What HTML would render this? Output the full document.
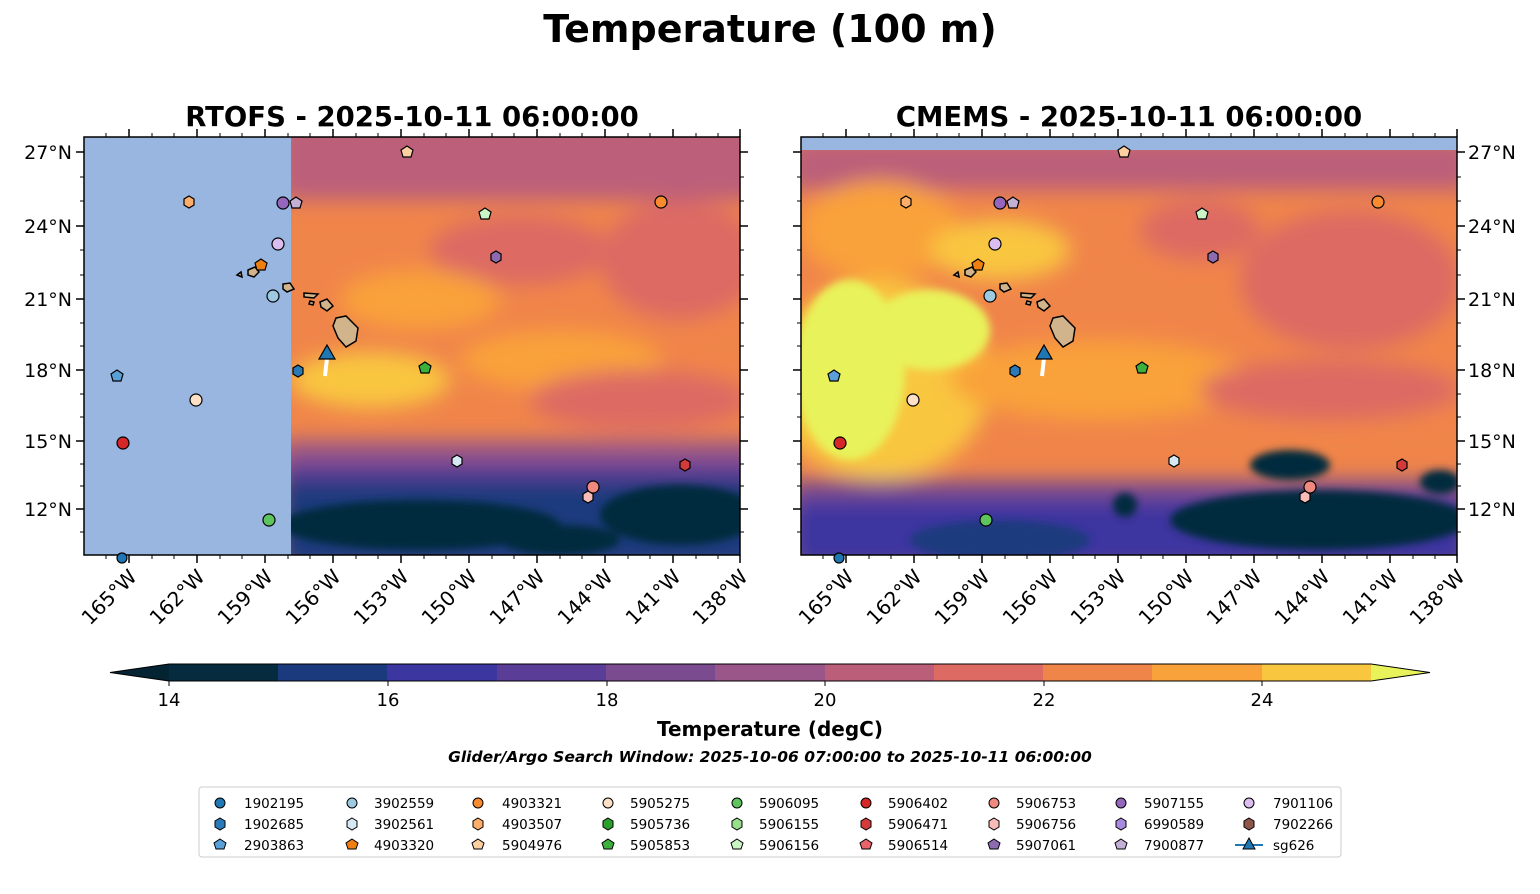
<!DOCTYPE html>
<html><head><meta charset="utf-8"><style>
body{margin:0;background:#fff;}
svg text{font-family:"DejaVu Sans","Liberation Sans",sans-serif;}
</style></head><body>
<svg width="1540" height="889" viewBox="0 0 1540 889" xmlns="http://www.w3.org/2000/svg">
<defs>
<filter id="bl" x="-20%" y="-20%" width="140%" height="140%"><feGaussianBlur stdDeviation="10"/></filter>
<filter id="bs" x="-20%" y="-20%" width="140%" height="140%"><feGaussianBlur stdDeviation="4"/></filter>
<clipPath id="cl"><rect x="291" y="137" width="449" height="418"/></clipPath>
<clipPath id="cr"><rect x="801" y="150" width="656" height="405"/></clipPath>
<g id="isl">
<path d="M336,318 L346,316 L358,328 L356,341 L346,347 L338,338 L333,326Z"/>
<path d="M320,302 L327,299 L333,306 L327,311 L321,307Z"/>
<path d="M304,293 L318,294 L314,298 L304,297Z"/>
<path d="M310,301 L314,302 L313,305 L309,304Z"/>
<path d="M283,284 L290,283 L294,289 L287,292 L283,289Z"/>
<path d="M248,270 L255,267 L259,272 L254,277 L248,275Z"/>
<path d="M237,275 L241,272 L242,277Z"/>
</g>
<g id="mkr" stroke="#000" stroke-width="1.2">
<polygon points="117,370 123,374 121,381 113,381 111,374" fill="#5aa0d8"/>
<circle cx="123" cy="443" r="6" fill="#d62728"/>
<polygon points="189,196 194,199 194,205 189,208 184,205 184,199" fill="#fdae6b"/>
<circle cx="196" cy="400" r="6" fill="#fde0c5"/>
<polygon points="261,259 267,263 265,270 257,270 255,263" fill="#f07f12"/>
<circle cx="278" cy="244" r="6" fill="#dcbdf0"/>
<circle cx="273" cy="296" r="6" fill="#9ecae1"/>
<circle cx="283" cy="203" r="6" fill="#9467bd"/>
<polygon points="296,197 302,201 300,208 292,208 290,201" fill="#c5b0d5"/>
<polygon points="298,365 303,368 303,374 298,377 293,374 293,368" fill="#2a7ab8"/>
<circle cx="269" cy="520" r="6" fill="#5ec45e"/>
<polygon points="407,146 413,150 411,157 403,157 401,150" fill="#fdd0a2"/>
<polygon points="485,208 491,212 489,219 481,219 479,212" fill="#ccf5c5"/>
<polygon points="496,251 501,254 501,260 496,263 491,260 491,254" fill="#8c6bb1"/>
<polygon points="425,362 431,366 429,373 421,373 419,366" fill="#3cb03c"/>
<polygon points="457,455 462,458 462,464 457,467 452,464 452,458" fill="#d6e8f4"/>
<circle cx="661" cy="202" r="6" fill="#f88a30"/>
<polygon points="685,459 690,462 690,468 685,471 680,468 680,462" fill="#d33b3b"/>
<circle cx="593" cy="487" r="6" fill="#f08a80"/>
<polygon points="588,491 593,494 593,500 588,503 583,500 583,494" fill="#f7bcb8"/>
<circle cx="122" cy="558" r="5" fill="#1f77b4"/>
<line x1="327" y1="358" x2="325" y2="376" stroke="#fff" stroke-width="4"/>
<polygon points="327,345 335,359 319,359" fill="#1f77b4"/>
</g>
</defs>
<text x="770" y="42" font-size="38" font-weight="bold" text-anchor="middle">Temperature (100 m)</text>
<text x="412" y="126" font-size="27.5" font-weight="bold" text-anchor="middle">RTOFS - 2025-10-11 06:00:00</text>
<text x="1129" y="126" font-size="27.5" font-weight="bold" text-anchor="middle">CMEMS - 2025-10-11 06:00:00</text>

<!-- LEFT MAP -->
<rect x="84" y="137" width="656" height="418" fill="#99b6e0"/>
<g clip-path="url(#cl)">
<rect x="291" y="137" width="449" height="418" fill="#f0854a"/>
<g filter="url(#bl)">
<rect x="280" y="120" width="480" height="80" fill="#bb5e7a"/>
<ellipse cx="520" cy="250" rx="90" ry="35" fill="#dd6b63"/>
<ellipse cx="680" cy="260" rx="80" ry="60" fill="#dd6b63"/>
<ellipse cx="420" cy="300" rx="80" ry="30" fill="#f9a13a"/>
<ellipse cx="370" cy="380" rx="80" ry="28" fill="#f9c63f"/>
<ellipse cx="560" cy="360" rx="100" ry="30" fill="#f9a13a"/>
<ellipse cx="640" cy="400" rx="110" ry="30" fill="#dd6b63"/>
<rect x="280" y="440" width="480" height="30" fill="#9a5688"/>
<rect x="280" y="462" width="480" height="25" fill="#5a3d96"/>
<rect x="280" y="480" width="480" height="90" fill="#1b3a7e"/>
</g>
<g filter="url(#bs)">
<ellipse cx="420" cy="525" rx="140" ry="25" fill="#062a3e"/>
<ellipse cx="680" cy="515" rx="80" ry="30" fill="#062a3e"/>
<ellipse cx="560" cy="540" rx="60" ry="15" fill="#062a3e"/>
</g>
</g>
<rect x="84" y="137" width="656" height="418" fill="none" stroke="#000" stroke-width="1.5"/>

<!-- RIGHT MAP -->
<rect x="801" y="137" width="656" height="418" fill="#99b6e0"/>
<g clip-path="url(#cr)">
<rect x="801" y="150" width="656" height="405" fill="#f0854a"/>
<g filter="url(#bl)">
<rect x="790" y="140" width="680" height="50" fill="#bb5e7a"/>
<ellipse cx="880" cy="230" rx="80" ry="50" fill="#f9a13a"/>
<ellipse cx="1000" cy="250" rx="70" ry="30" fill="#f9c63f"/>
<ellipse cx="1350" cy="280" rx="110" ry="70" fill="#dd6b63"/>
<ellipse cx="1200" cy="230" rx="60" ry="30" fill="#dd6b63"/>
<ellipse cx="880" cy="380" rx="110" ry="100" fill="#f9c63f"/>
<ellipse cx="1100" cy="380" rx="150" ry="40" fill="#f9a13a"/>
<ellipse cx="1330" cy="390" rx="130" ry="30" fill="#dd6b63"/>
<rect x="790" y="480" width="680" height="30" fill="#7a4b8e"/>
<rect x="790" y="500" width="680" height="70" fill="#3c36a0"/>
</g>
<ellipse cx="850" cy="370" rx="55" ry="90" fill="#e8f25a" filter="url(#bs)"/>
<ellipse cx="930" cy="330" rx="60" ry="40" fill="#e8f25a" filter="url(#bs)"/>
<g filter="url(#bs)">
<ellipse cx="1290" cy="465" rx="40" ry="15" fill="#062a3e"/>
<ellipse cx="1440" cy="482" rx="20" ry="12" fill="#062a3e"/>
<ellipse cx="1320" cy="520" rx="150" ry="30" fill="#062a3e"/>
<ellipse cx="1000" cy="540" rx="90" ry="20" fill="#1b3a7e"/>
<ellipse cx="1125" cy="505" rx="12" ry="12" fill="#062a3e"/>
</g>
</g>
<rect x="801" y="137" width="656" height="418" fill="none" stroke="#000" stroke-width="1.5"/>

<use href="#isl" fill="#d2b48c" stroke="#000" stroke-width="1.5"/>
<use href="#isl" transform="translate(717,0)" fill="#d2b48c" stroke="#000" stroke-width="1.5"/>
<use href="#mkr"/>
<use href="#mkr" transform="translate(717,0)"/>

<!-- lat ticks -->
<g stroke="#000" stroke-width="1.5">
<path id="latM" d="M76,152H84M76,226H84M76,299H84M76,370H84M76,441H84M76,509H84"/>
<use href="#latM" transform="translate(664,0)"/>
<use href="#latM" transform="translate(717,0)"/>
<use href="#latM" transform="translate(1381,0)"/>
</g>
<g stroke="#000" stroke-width="1">
<path id="latm" d="M80,177H84M80,201H84M80,250H84M80,275H84M80,323H84M80,346H84M80,394H84M80,417H84M80,464H84M80,486H84M80,532H84"/>
<use href="#latm" transform="translate(660,0)"/>
<use href="#latm" transform="translate(717,0)"/>
<use href="#latm" transform="translate(1377,0)"/>
<path id="lonm" d="M106,133V137M152,133V137M174,133V137M220,133V137M242,133V137M288,133V137M310,133V137M356,133V137M378,133V137M424,133V137M446,133V137M492,133V137M514,133V137M560,133V137M582,133V137M628,133V137M650,133V137M696,133V137M718,133V137"/>
<use href="#lonm" transform="translate(0,422)"/>
<use href="#lonm" transform="translate(717,0)"/>
<use href="#lonm" transform="translate(717,422)"/>
</g>
<g font-size="19" text-anchor="end">
<text x="72" y="159">27°N</text><text x="72" y="233">24°N</text><text x="72" y="306">21°N</text><text x="72" y="377">18°N</text><text x="72" y="448">15°N</text><text x="72" y="516">12°N</text>
</g>
<g font-size="19">
<text x="1468" y="159">27°N</text><text x="1468" y="233">24°N</text><text x="1468" y="306">21°N</text><text x="1468" y="377">18°N</text><text x="1468" y="448">15°N</text><text x="1468" y="516">12°N</text>
</g>
<!-- lon ticks -->
<g stroke="#000" stroke-width="1.5">
<path id="lonM" d="M129,129V137M197,129V137M265,129V137M333,129V137M401,129V137M469,129V137M537,129V137M605,129V137M673,129V137M740,129V137"/>
<use href="#lonM" transform="translate(0,426)"/>
<use href="#lonM" transform="translate(717,0)"/>
<use href="#lonM" transform="translate(717,426)"/>
</g>
<g font-size="20" text-anchor="end">
<text transform="translate(138,578) rotate(-45)">165°W</text>
<text transform="translate(206,578) rotate(-45)">162°W</text>
<text transform="translate(274,578) rotate(-45)">159°W</text>
<text transform="translate(342,578) rotate(-45)">156°W</text>
<text transform="translate(410,578) rotate(-45)">153°W</text>
<text transform="translate(478,578) rotate(-45)">150°W</text>
<text transform="translate(546,578) rotate(-45)">147°W</text>
<text transform="translate(614,578) rotate(-45)">144°W</text>
<text transform="translate(682,578) rotate(-45)">141°W</text>
<text transform="translate(749,578) rotate(-45)">138°W</text>
<text transform="translate(855,578) rotate(-45)">165°W</text>
<text transform="translate(923,578) rotate(-45)">162°W</text>
<text transform="translate(991,578) rotate(-45)">159°W</text>
<text transform="translate(1059,578) rotate(-45)">156°W</text>
<text transform="translate(1127,578) rotate(-45)">153°W</text>
<text transform="translate(1195,578) rotate(-45)">150°W</text>
<text transform="translate(1263,578) rotate(-45)">147°W</text>
<text transform="translate(1331,578) rotate(-45)">144°W</text>
<text transform="translate(1399,578) rotate(-45)">141°W</text>
<text transform="translate(1466,578) rotate(-45)">138°W</text>
</g>

<!-- colorbar -->
<polygon points="110,672.5 169,664 169,681" fill="#042333"/>
<rect x="169" y="664" width="110" height="17" fill="#062a3e"/>
<rect x="278" y="664" width="110" height="17" fill="#1b3a7e"/>
<rect x="387" y="664" width="110" height="17" fill="#3c36a0"/>
<rect x="497" y="664" width="110" height="17" fill="#5a3d96"/>
<rect x="606" y="664" width="110" height="17" fill="#7a4b8e"/>
<rect x="715" y="664" width="110" height="17" fill="#9a5688"/>
<rect x="825" y="664" width="110" height="17" fill="#bb5e7a"/>
<rect x="934" y="664" width="110" height="17" fill="#dd6b63"/>
<rect x="1043" y="664" width="110" height="17" fill="#f0854a"/>
<rect x="1152" y="664" width="110" height="17" fill="#f9a13a"/>
<rect x="1262" y="664" width="109" height="17" fill="#f9c63f"/>
<polygon points="1371,664 1430,672.5 1371,681" fill="#e8f25a"/>
<polygon points="110,672.5 169,664 1371,664 1430,672.5 1371,681 169,681" fill="none" stroke="#000" stroke-width="1"/>
<g stroke="#000"><path d="M169,681V686M388,681V686M607,681V686M825,681V686M1044,681V686M1262,681V686"/></g>
<g font-size="18" text-anchor="middle">
<text x="169" y="706">14</text><text x="388" y="706">16</text><text x="607" y="706">18</text><text x="825" y="706">20</text><text x="1044" y="706">22</text><text x="1262" y="706">24</text>
</g>
<text x="770" y="736" font-size="20" font-weight="bold" text-anchor="middle">Temperature (degC)</text>
<text x="770" y="762" font-size="15.5" font-weight="bold" font-style="italic" text-anchor="middle">Glider/Argo Search Window: 2025-10-06 07:00:00 to 2025-10-11 06:00:00</text>

<!-- legend -->
<rect x="199" y="787" width="1142" height="70" rx="3" fill="#fff" stroke="#ccc"/>
<g font-size="13.5" stroke-width="1">
<g stroke="#000">
<circle cx="220" cy="803" r="5" fill="#1f77b4"/>
<polygon points="220,818 225,821 225,827 220,830 215,827 215,821" fill="#2a7ab8"/>
<polygon points="220,839 226,843 224,849 216,849 214,843" fill="#5aa0d8"/>
<circle cx="352" cy="803" r="5" fill="#9ecae1"/>
<polygon points="352,818 357,821 357,827 352,830 347,827 347,821" fill="#d6e8f4"/>
<polygon points="352,839 358,843 356,849 348,849 346,843" fill="#f07f12"/>
<circle cx="478" cy="803" r="5" fill="#f88a30"/>
<polygon points="478,818 483,821 483,827 478,830 473,827 473,821" fill="#fdae6b"/>
<polygon points="478,839 484,843 482,849 474,849 472,843" fill="#fdd0a2"/>
<circle cx="608" cy="803" r="5" fill="#fde0c5"/>
<polygon points="608,818 613,821 613,827 608,830 603,827 603,821" fill="#2ca02c"/>
<polygon points="608,839 614,843 612,849 604,849 602,843" fill="#3cb03c"/>
<circle cx="737" cy="803" r="5" fill="#5ec45e"/>
<polygon points="737,818 742,821 742,827 737,830 732,827 732,821" fill="#98df8a"/>
<polygon points="737,839 743,843 741,849 733,849 731,843" fill="#ccf5c5"/>
<circle cx="866" cy="803" r="5" fill="#d62728"/>
<polygon points="866,818 871,821 871,827 866,830 861,827 861,821" fill="#d33b3b"/>
<polygon points="866,839 872,843 870,849 862,849 860,843" fill="#e8636a"/>
<circle cx="994" cy="803" r="5" fill="#f08a80"/>
<polygon points="994,818 999,821 999,827 994,830 989,827 989,821" fill="#f7bcb8"/>
<polygon points="994,839 1000,843 998,849 990,849 988,843" fill="#8c6bb1"/>
<circle cx="1121" cy="803" r="5" fill="#9467bd"/>
<polygon points="1121,818 1126,821 1126,827 1121,830 1116,827 1116,821" fill="#a88be0"/>
<polygon points="1121,839 1127,843 1125,849 1117,849 1115,843" fill="#c5b0d5"/>
<circle cx="1249" cy="803" r="5" fill="#dcbdf0"/>
<polygon points="1249,818 1254,821 1254,827 1249,830 1244,827 1244,821" fill="#8c564b"/>
</g>
<line x1="1235" y1="845" x2="1263" y2="845" stroke="#1f77b4" stroke-width="2"/>
<polygon points="1249,838 1255,849 1243,849" fill="#1f77b4" stroke="#000"/>
<text x="244" y="808">1902195</text><text x="244" y="829">1902685</text><text x="244" y="850">2903863</text>
<text x="374" y="808">3902559</text><text x="374" y="829">3902561</text><text x="374" y="850">4903320</text>
<text x="502" y="808">4903321</text><text x="502" y="829">4903507</text><text x="502" y="850">5904976</text>
<text x="630" y="808">5905275</text><text x="630" y="829">5905736</text><text x="630" y="850">5905853</text>
<text x="759" y="808">5906095</text><text x="759" y="829">5906155</text><text x="759" y="850">5906156</text>
<text x="888" y="808">5906402</text><text x="888" y="829">5906471</text><text x="888" y="850">5906514</text>
<text x="1016" y="808">5906753</text><text x="1016" y="829">5906756</text><text x="1016" y="850">5907061</text>
<text x="1144" y="808">5907155</text><text x="1144" y="829">6990589</text><text x="1144" y="850">7900877</text>
<text x="1273" y="808">7901106</text><text x="1273" y="829">7902266</text><text x="1273" y="850">sg626</text>
</g>
</svg>
</body></html>
